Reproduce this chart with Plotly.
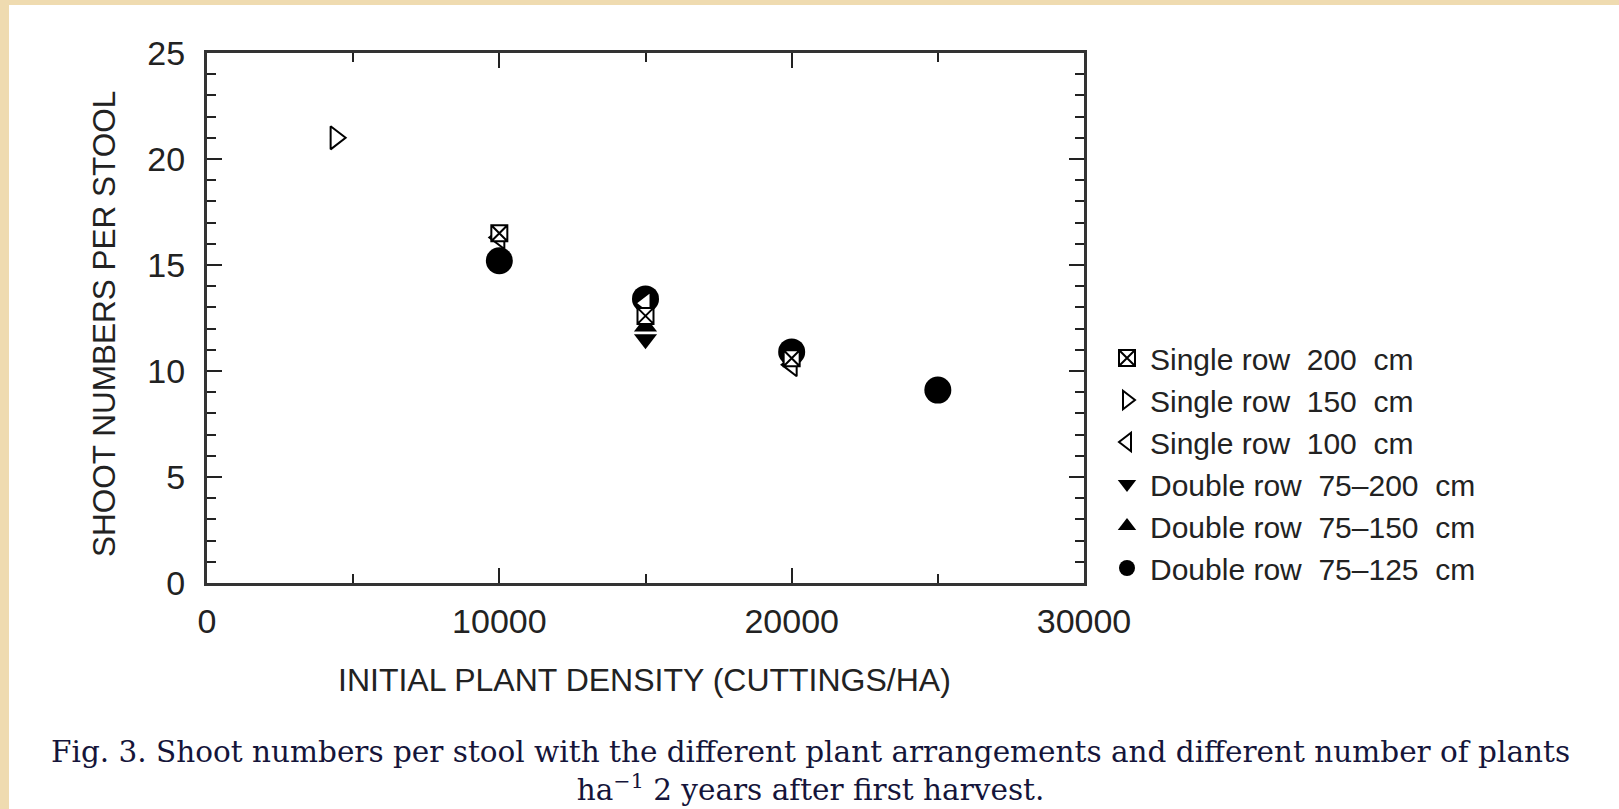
import plotly.graph_objects as go

# Shoot numbers per stool vs. initial plant density, by plant arrangement
single200_x = [10000, 15000, 20000]
single200_y = [16.5, 12.6, 10.6]

single150_x = [4400]
single150_y = [21.0]

single100_x = [10000, 15000, 20000]
single100_y = [16.3, 13.2, 10.3]

double200_x = [15000]
double200_y = [11.5]

double150_x = [15000]
double150_y = [12.1]

double125_x = [10000, 15000, 20000, 25000]
double125_y = [15.2, 13.4, 10.9, 9.1]

x_ticks = [0, 10000, 20000, 30000]
y_ticks = [0, 5, 10, 15, 20, 25]

W, H = 1619, 809
L, R, T, B = 207, 1084, 53, 583  # plot area in pixels


def px(xp):
    return (xp - L) / (R - L)


def py(yp):
    return (B - yp) / (B - T)


FONT = "Arial, Liberation Sans, sans-serif"
SERIF = "DejaVu Serif, serif"
INK = "#222222"

fig = go.Figure()

# filled markers first, white-filled open markers on top
fig.add_trace(go.Scatter(
    x=double125_x, y=double125_y, mode="markers", name="Double row  75\u2013125  cm",
    legendrank=6,
    marker=dict(symbol="circle", size=27, color="black", line=dict(width=0))))
fig.add_trace(go.Scatter(
    x=double150_x, y=double150_y, mode="markers", name="Double row  75\u2013150  cm",
    legendrank=5,
    marker=dict(symbol="triangle-up", size=20, color="black", line=dict(width=0))))
fig.add_trace(go.Scatter(
    x=double200_x, y=double200_y, mode="markers", name="Double row  75\u2013200  cm",
    legendrank=4,
    marker=dict(symbol="triangle-down", size=20, color="black", line=dict(width=0))))
fig.add_trace(go.Scatter(
    x=single100_x, y=single100_y, mode="markers", name="Single row  100  cm",
    legendrank=3,
    marker=dict(symbol="triangle-left", size=20, color="white",
                line=dict(width=2, color="black"))))
fig.add_trace(go.Scatter(
    x=single150_x, y=single150_y, mode="markers", name="Single row  150  cm",
    legendrank=2,
    marker=dict(symbol="triangle-right", size=20, color="white",
                line=dict(width=2, color="black"))))
fig.add_trace(go.Scatter(
    x=single200_x, y=single200_y, mode="markers", name="Single row  200  cm",
    legendrank=1,
    marker=dict(symbol="square-x", size=16, color="white",
                line=dict(width=2, color="black"))))

axis_common = dict(
    showline=True, linecolor="#333333", linewidth=3, mirror="allticks",
    ticks="inside", tickcolor="#222222", tickwidth=2,
    showgrid=False, zeroline=False,
    tickfont=dict(family=FONT, size=34, color=INK),
)

fig.update_xaxes(
    range=[0, 30000], tickvals=x_ticks, ticktext=[str(v) for v in x_ticks],
    ticklen=15, ticklabelstandoff=6,
    minor=dict(ticks="inside", dtick=5000, tick0=0, ticklen=9, tickwidth=2,
               tickcolor="#222222", showgrid=False),
    **axis_common)
fig.update_yaxes(
    range=[0, 25], tickvals=y_ticks, ticktext=[str(v) for v in y_ticks],
    ticklen=15, ticklabelstandoff=12,
    minor=dict(ticks="inside", dtick=1, tick0=0, ticklen=9, tickwidth=2,
               tickcolor="#222222", showgrid=False),
    **axis_common)

annotations = [
    dict(text="SHOOT NUMBERS PER STOOL", x=px(104), y=py(324), textangle=-90,
         font=dict(family=FONT, size=31.5, color=INK)),
    dict(text="INITIAL PLANT DENSITY (CUTTINGS/HA)", x=px(644), y=py(680),
         font=dict(family=FONT, size=32, color=INK)),
    dict(text="Fig. 3. Shoot numbers per stool with the different plant arrangements "
              "and different number of plants<br>"
              "ha<sup>\u22121</sup> 2 years after first harvest.",
         x=px(810), y=py(771),
         font=dict(family=SERIF, size=29.5, color="#15153a")),
]
for a in annotations:
    a.update(xref="paper", yref="paper", showarrow=False,
             xanchor="center", yanchor="middle")

# parchment strips along the top and left edges of the page
shapes = [
    dict(type="rect", xref="paper", yref="paper", layer="below",
         x0=px(0), x1=px(9), y0=py(W), y1=py(0),
         fillcolor="#efdbb0", line=dict(width=0)),
    dict(type="rect", xref="paper", yref="paper", layer="below",
         x0=px(0), x1=px(W), y0=py(5), y1=py(0),
         fillcolor="#efdbb0", line=dict(width=0)),
]

fig.update_layout(
    width=W, height=H,
    margin=dict(l=L, r=W - R, t=T, b=H - B, autoexpand=False),
    paper_bgcolor="white", plot_bgcolor="white",
    showlegend=True,
    legend=dict(
        x=px(1104), y=py(332), xanchor="left", yanchor="top",
        bgcolor="rgba(0,0,0,0)", borderwidth=0,
        font=dict(family=FONT, size=30, color=INK),
        itemsizing="trace", itemwidth=36, tracegroupgap=0,
    ),
    annotations=annotations,
    shapes=shapes,
)

fig.write_html("out.html")
